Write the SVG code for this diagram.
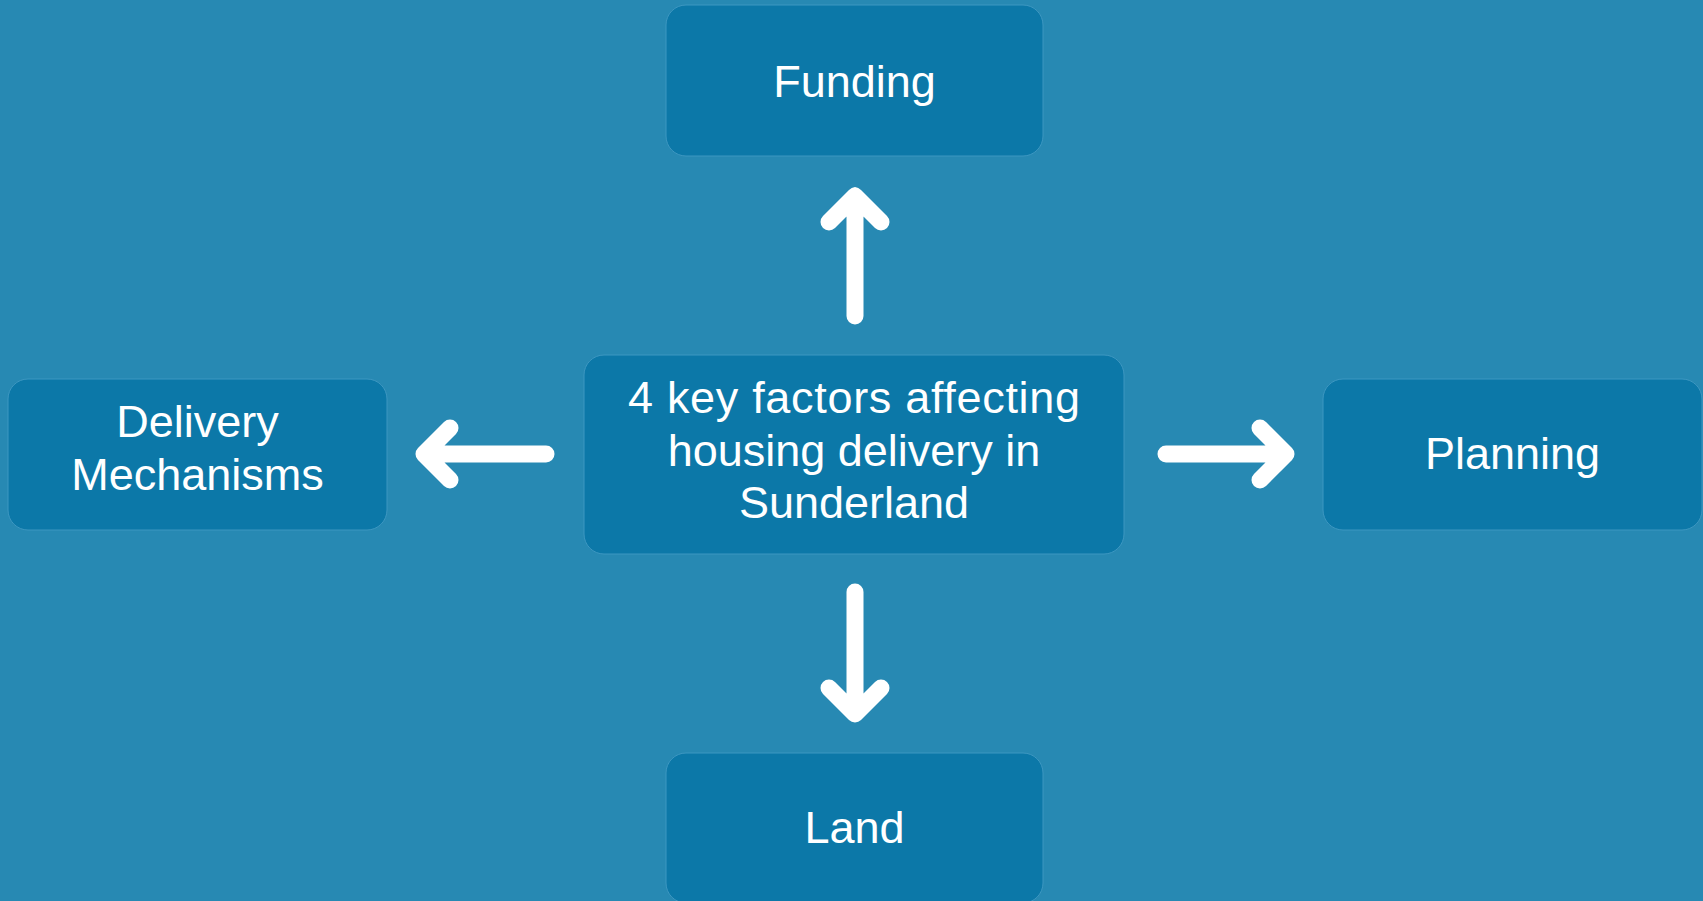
<svg xmlns="http://www.w3.org/2000/svg" width="1703" height="901" viewBox="0 0 1703 901">
<style>
.box{fill:#0C78A8;stroke:#3D97C1;stroke-width:1}
.lbl{font-family:"Liberation Sans",Arial,sans-serif;font-size:45px;fill:#FFFFFF;text-anchor:middle}
.arr{fill:none;stroke:#FFFFFF;stroke-width:17;stroke-linecap:round;stroke-linejoin:round}
</style>
<rect x="0" y="0" width="1703" height="901" fill="#2789B3"/>
<g id="funding">
<rect class="box" x="666" y="5" width="377" height="151" rx="20"/>
<text class="lbl" x="854.5" y="97">Funding</text>
</g>
<g id="center">
<rect class="box" x="584" y="355" width="540" height="199" rx="20"/>
<text class="lbl" x="854" y="413" textLength="452" lengthAdjust="spacing">4 key factors affecting</text>
<text class="lbl" x="854" y="466">housing delivery in</text>
<text class="lbl" x="854" y="518">Sunderland</text>
</g>
<g id="delivery">
<rect class="box" x="8" y="379" width="379" height="151" rx="20"/>
<text class="lbl" x="197.5" y="437">Delivery</text>
<text class="lbl" x="197.5" y="490">Mechanisms</text>
</g>
<g id="planning">
<rect class="box" x="1323" y="379" width="379" height="151" rx="20"/>
<text class="lbl" x="1512.5" y="469">Planning</text>
</g>
<g id="land">
<rect class="box" x="666" y="753" width="377" height="150" rx="20"/>
<text class="lbl" x="854.5" y="843">Land</text>
</g>
<g id="connectors">
<path class="arr" d="M855 316 V196 M829 222 L855 196 L881 222"/>
<path class="arr" d="M855 592 V714 M829 688 L855 714 L881 688"/>
<path class="arr" d="M546 454 H424 M450 428 L424 454 L450 480"/>
<path class="arr" d="M1166 454 H1286 M1260 428 L1286 454 L1260 480"/>
</g>
</svg>
